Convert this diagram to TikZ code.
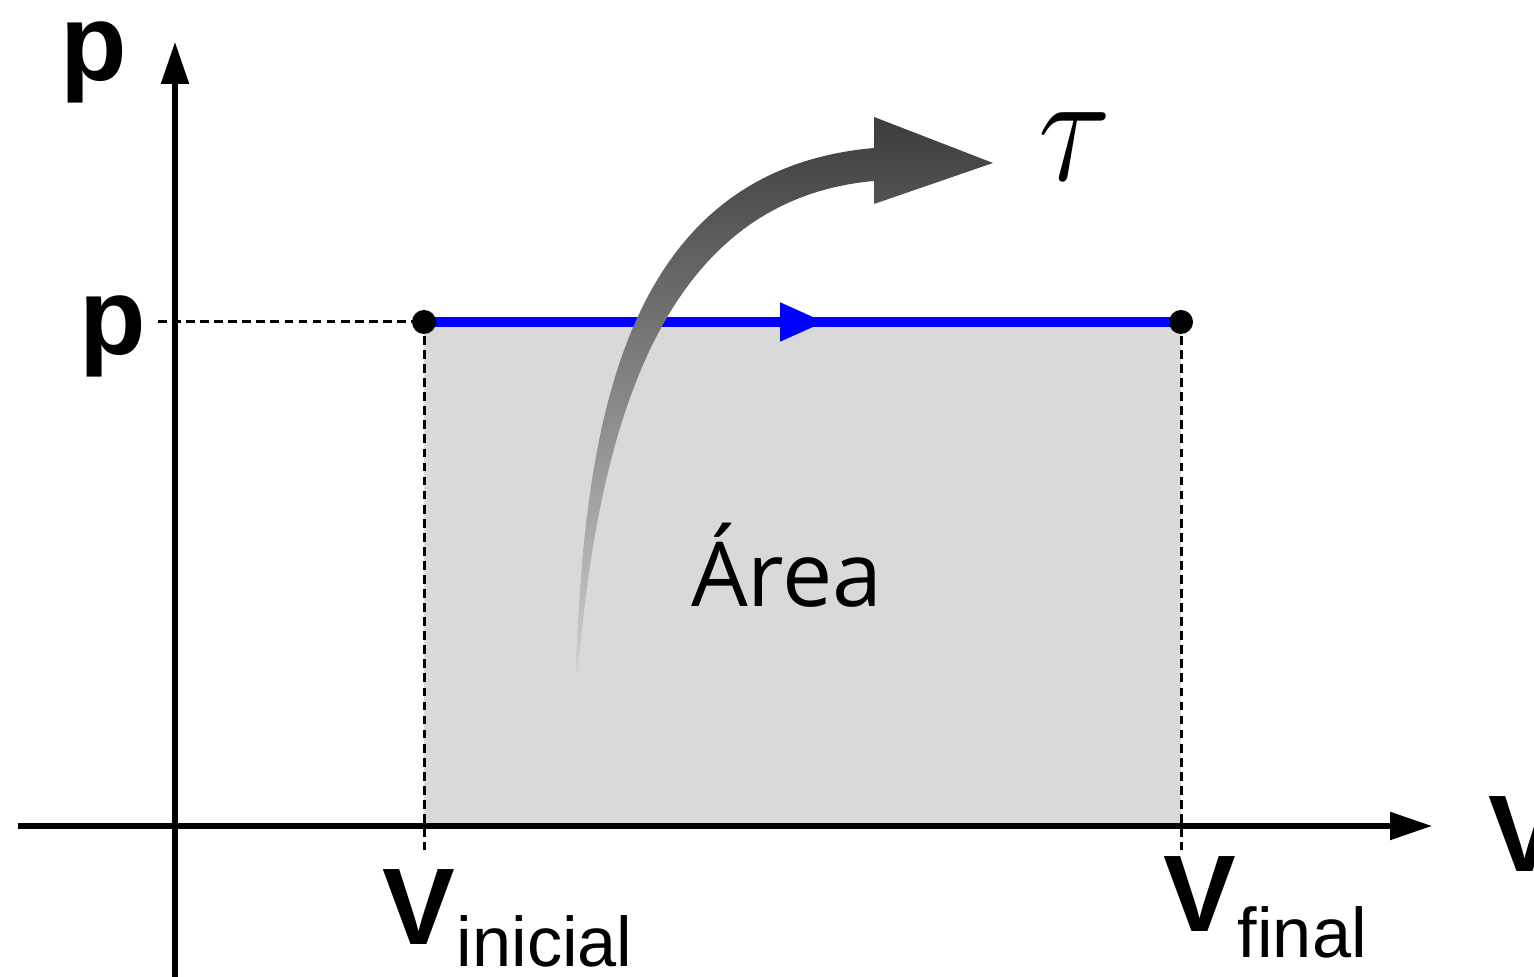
\documentclass[tikz,border=0pt]{standalone}
\usepackage{fontspec}
\setmainfont{Liberation Sans}
\newfontfamily\areafont{Open Sans}
\usepackage{xcolor}
\definecolor{vizArea}{HTML}{D9D9D9}
\definecolor{vizPath}{HTML}{0000FF}
\definecolor{vizWork}{HTML}{3C3C3C}
\definecolor{vizFade}{HTML}{D0D0D0}
\usetikzlibrary{arrows.meta,decorations.markings,positioning}

\begin{document}
\begin{tikzpicture}[
  axislbl/.style={inner sep=0pt, font=\fontsize{31}{31}\selectfont\bfseries},
  sublbl/.style={inner sep=0pt, font=\fontsize{20}{20}\selectfont},
  guide/.style={line width=0.85pt, dash pattern=on 2.5pt off 1.5pt},
  statept/.style={circle, fill=black, inner sep=0pt, minimum size=0.24cm},
  axisline/.style={line width=1.5pt, -{Triangle[length=0.42cm,width=0.27cm]}}
]
  \useasboundingbox (0,0) rectangle (15.34,9.77);
  \coordinate (xstart) at (0.18,1.51);
  \coordinate (xend) at (14.32,1.51);
  \coordinate (ystart) at (1.75,0);
  \coordinate (yend) at (1.75,9.35);
  \coordinate (ini) at (4.24,6.55);
  \coordinate (fin) at (11.81,6.55);
  \coordinate (pmark) at (1.58,6.55);
  \coordinate (inifoot) at (4.24,1.27);
  \coordinate (finfoot) at (11.81,1.27);
  \fill[vizArea] (ini) rectangle (11.81,1.51);
  \draw[guide] (pmark) -- (ini);
  \draw[guide] (ini) -- (inifoot);
  \draw[guide] (fin) -- (finfoot);
  \draw[axisline] (xstart) -- (xend);
  \draw[axisline] (ystart) -- (yend);
  \draw[vizPath, line width=2.9pt, postaction={decorate},
    decoration={markings, mark=at position 0.53 with {\arrow{Triangle[length=0.45cm,width=0.36cm]}}}]
    (ini) -- (fin);
  \node[statept] (inidot) at (ini) {};
  \node[statept] (findot) at (fin) {};
  \shade[top color=vizWork, bottom color=vizFade]
    (5.76,3.05) .. controls (5.84,5.57) and (6.25,8.07) .. (8.74,8.29)
    -- (8.74,8.60) -- (9.93,8.14) -- (8.74,7.73) -- (8.74,7.96)
    .. controls (6.60,7.77) and (5.98,5.47) .. (5.78,3.05) -- cycle;
  \node[font=\fontsize{24.88}{25}\selectfont] (tau) at (10.75,8.30) {\scalebox{1.55}[1.8]{$\tau$}};
  \node[font=\areafont\fontsize{25.5}{26}\selectfont, anchor=base] (arealbl) at (7.87,3.70) {Área};
  \node[axislbl, anchor=base] (plabtop) at (0.94,8.96) {p};
  \node[axislbl, anchor=base] (plab) at (1.13,6.22) {p};
  \node[axislbl, anchor=base west] (vlab) at (14.88,1.05) {V};
  \node[axislbl, anchor=base west] (vini) at (3.82,0.32) {V};
  \node[sublbl, anchor=base west] (vinisub) at ([yshift=-0.22cm]vini.base east) {inicial};
  \node[axislbl, anchor=base west] (vfin) at (11.63,0.45) {V};
  \node[sublbl, anchor=base west] (vfinsub) at ([yshift=-0.26cm]vfin.base east) {final};
\end{tikzpicture}
\end{document}
